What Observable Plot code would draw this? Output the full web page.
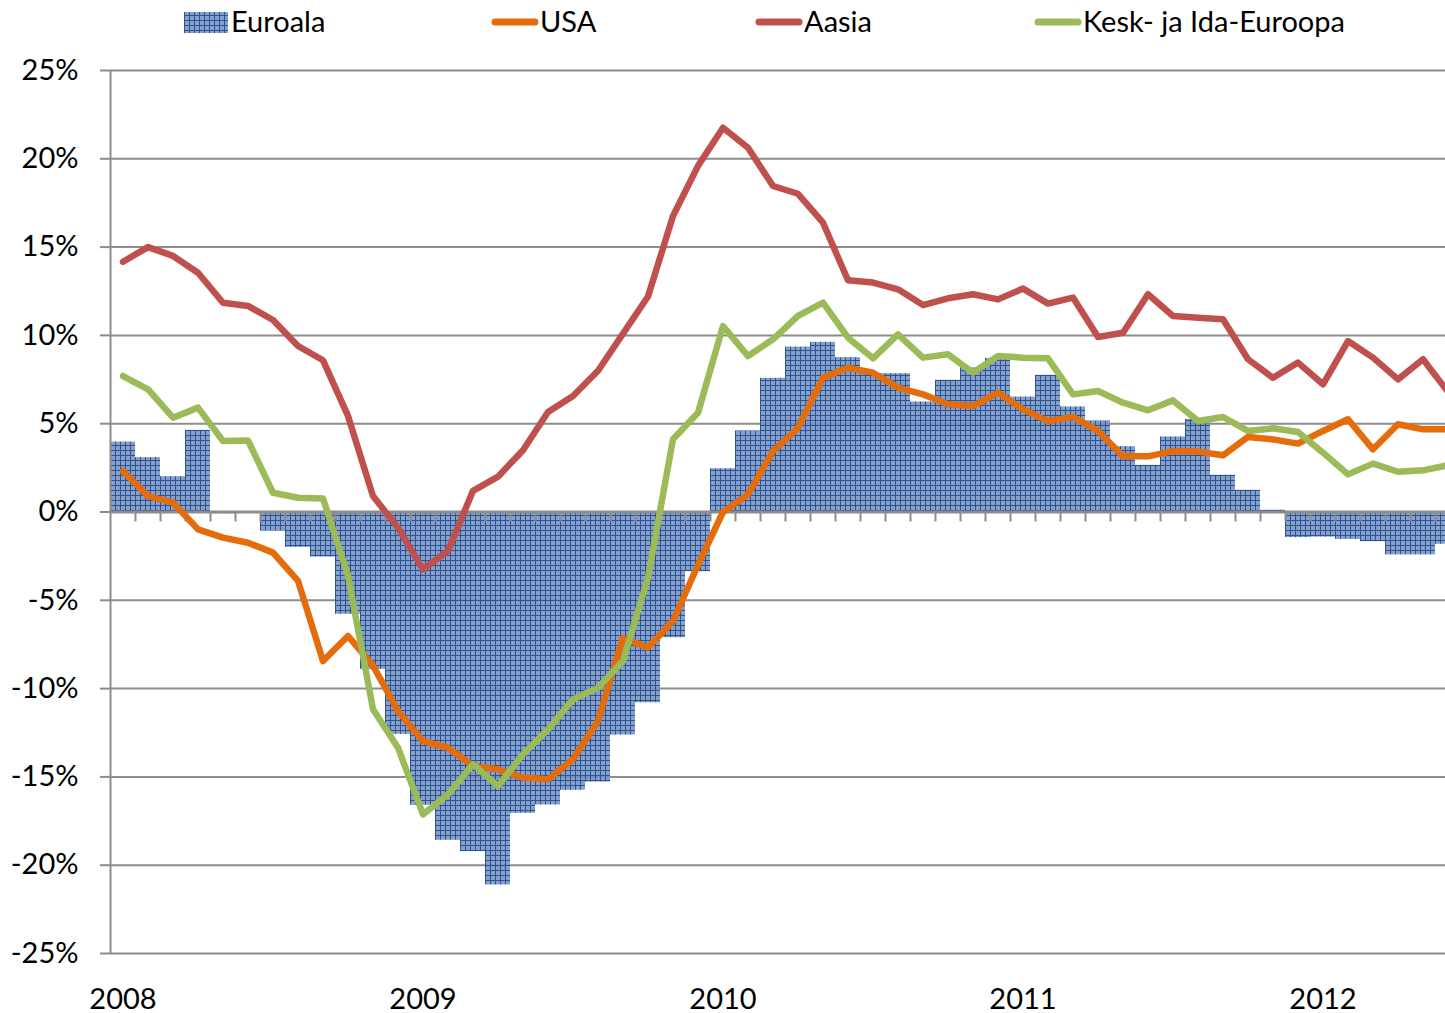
<!DOCTYPE html>
<html>
<head>
<meta charset="utf-8">
<script src="https://cdn.jsdelivr.net/npm/d3@7"></script>
<script src="https://cdn.jsdelivr.net/npm/@observablehq/plot@0.6"></script>
<style>
  body { margin: 0; background: #fff; font-family: Lato, "Open Sans", sans-serif; }
  #legend { display: block; }
  #chart svg { display: block; }
</style>
</head>
<body>
<svg width="0" height="0" style="position:absolute">
  <defs>
    <pattern id="hatch" patternUnits="userSpaceOnUse" width="5" height="5">
      <rect width="5" height="5" fill="#7393c4" fill-opacity="0.88"></rect>
      <rect width="5" height="1" fill="#2c5290"></rect>
      <rect width="1" height="5" fill="#2c5290"></rect>
    </pattern>
  </defs>
</svg>
<div id="legend"></div>
<div id="chart"></div>
<script>
// ---- data (monthly, Jan 2008 onward), % y/y ----
const startYear = 2008;
const seriesNames = ["Euroala", "USA", "Aasia", "Kesk- ja Ida-Euroopa"];
const seriesColors = ["url(#hatch)", "#E46C0A", "#C0504D", "#9BBB59"];

const euroala = [
  3.96, 3.08, 2.0, 4.62, -0.1, -0.05, -1.08, -2.0, -2.55, -5.79,
  -8.91, -12.59, -16.61, -18.59, -19.23, -21.12, -17.06, -16.59, -15.76, -15.29,
  -12.63, -10.8, -7.12, -3.38, 2.45, 4.59, 7.57, 9.34, 9.61, 8.74,
  7.83, 7.83, 6.23, 7.46, 8.17, 8.7, 6.51, 7.74, 5.95, 5.15,
  3.7, 2.64, 4.25, 5.25, 2.08, 1.23, 0.1, -1.45, -1.42, -1.55,
  -1.68, -2.43, -2.43, -1.83
];
const usa = [
  2.32, 0.9, 0.53, -0.98, -1.45, -1.74, -2.3, -3.9, -8.44, -7.02,
  -8.7, -11.27, -12.97, -13.35, -14.38, -14.57, -15.04, -15.13, -14.0, -11.83,
  -7.12, -7.68, -6.17, -3.0, 0.0, 1.0, 3.45, 4.77, 7.6, 8.17,
  7.89, 7.04, 6.66, 6.1, 6.0, 6.76, 5.81, 5.15, 5.38, 4.59,
  3.15, 3.15, 3.45, 3.42, 3.21, 4.25, 4.11, 3.87, 4.59, 5.25,
  3.55, 4.97, 4.68, 4.68
];
const aasia = [
  14.17, 15.0, 14.5, 13.55, 11.85, 11.67, 10.87, 9.4, 8.59, 5.44,
  0.9, -0.89, -3.25, -2.2, 1.2, 2.0, 3.5, 5.66, 6.57, 8.0,
  10.1, 12.2, 16.76, 19.6, 21.76, 20.63, 18.46, 18.02, 16.38, 13.12,
  12.99, 12.61, 11.72, 12.1, 12.33, 12.04, 12.65, 11.8, 12.14, 9.91,
  10.15, 12.33, 11.1, 11.0, 10.91, 8.65, 7.6, 8.46, 7.23, 9.68,
  8.74, 7.51, 8.65, 6.8
];
const keskIda = [
  7.7, 6.95, 5.34, 5.91, 4.02, 4.05, 1.09, 0.81, 0.77, -3.6,
  -11.17, -13.35, -17.12, -15.99, -14.29, -15.52, -13.72, -12.31, -10.61, -9.95,
  -8.44, -3.72, 4.12, 5.62, 10.53, 8.83, 9.78, 11.1, 11.85, 9.87,
  8.7, 10.06, 8.74, 8.93, 7.89, 8.83, 8.74, 8.7, 6.66, 6.85,
  6.19, 5.76, 6.32, 5.15, 5.38, 4.59, 4.74, 4.53, 3.36, 2.13,
  2.74, 2.28, 2.36, 2.65
];
const yearLabels = ["2008", "2009", "2010", "2011", "2012"];
const yTicks = [-25, -20, -15, -10, -5, 0, 5, 10, 15, 20, 25];

// ---- table built from the arrays ----
const rows = euroala.map((v, i) => ({
  i, x1: i, x2: i + 1, xc: i + 0.5,
  euro: v, usa: usa[i], aasia: aasia[i], kesk: keskIda[i]
}));
const monthBounds = d3.range(1, euroala.length);
const yearPos = yearLabels.map((y) => (Number(y) - startYear) * 12 + 0.5);

const grid = "#8c8c8c";
const fontFamily = "Lato, 'Open Sans', sans-serif";

// ---- legend (above the svg) ----
const legendItems = [
  {name: seriesNames[0], color: seriesColors[0], kind: "box", x: 184},
  {name: seriesNames[1], color: seriesColors[1], kind: "line", x: 491},
  {name: seriesNames[2], color: seriesColors[2], kind: "line", x: 755},
  {name: seriesNames[3], color: seriesColors[3], kind: "line", x: 1034}
];
const lg = d3.select("#legend").append("svg")
  .attr("width", 1445).attr("height", 45)
  .style("display", "block")
  .style("font-family", fontFamily).style("font-size", "29px");
for (const it of legendItems) {
  const g = lg.append("g").attr("transform", `translate(${it.x},0)`);
  if (it.kind === "box") {
    g.append("rect").attr("x", 0).attr("y", 12).attr("width", 44).attr("height", 21).attr("fill", it.color);
    g.append("text").attr("x", 47).attr("y", 32).text(it.name);
  } else {
    g.append("line").attr("x1", 4).attr("x2", 44).attr("y1", 22).attr("y2", 22)
      .attr("stroke", it.color).attr("stroke-width", 7).attr("stroke-linecap", "round");
    g.append("text").attr("x", 49).attr("y", 32).text(it.name);
  }
}

// ---- chart ----
const lineOpts = {strokeWidth: 6.5, strokeLinejoin: "round", strokeLinecap: "round", clip: true};
const chart = Plot.plot({
  width: 1445,
  height: 968,
  marginTop: 25,
  marginBottom: 60,
  marginLeft: 110,
  marginRight: 0,
  style: {fontFamily, fontSize: "29px", color: "#000", background: "#fff", overflow: "visible"},
  x: {type: "linear", domain: [0, 53.4], axis: null},
  y: {domain: [-25, 25], axis: null},
  marks: [
    Plot.ruleY(yTicks.filter(t => t !== 0), {stroke: grid, strokeWidth: 2}),
    Plot.rectY(rows, {x1: "x1", x2: "x2", y1: 0, y2: "euro", fill: seriesColors[0], clip: true}),
    Plot.ruleX([0], {y1: -25, y2: 25, stroke: grid, strokeWidth: 2}),
    Plot.axisY(yTicks, {tickSize: 10, tickPadding: 22, tickFormat: d => d + "%", stroke: grid, strokeWidth: 2, fill: "#000"}),
    Plot.ruleY([0], {stroke: grid, strokeWidth: 3}),
    Plot.ruleX(monthBounds, {x: d => d, y1: 0, y2: 0, insetBottom: -10, stroke: grid, strokeWidth: 2}),
    Plot.line(rows, {x: "xc", y: "usa", stroke: seriesColors[1], ...lineOpts}),
    Plot.line(rows, {x: "xc", y: "aasia", stroke: seriesColors[2], ...lineOpts}),
    Plot.line(rows, {x: "xc", y: "kesk", stroke: seriesColors[3], ...lineOpts}),
    Plot.axisX(yearPos, {anchor: "bottom", tickSize: 0, tickPadding: 35, tickFormat: d => String(startYear + Math.floor(d / 12)), fill: "#000"})
  ]
});
document.getElementById("chart").appendChild(chart);
</script>
</body>
</html>
